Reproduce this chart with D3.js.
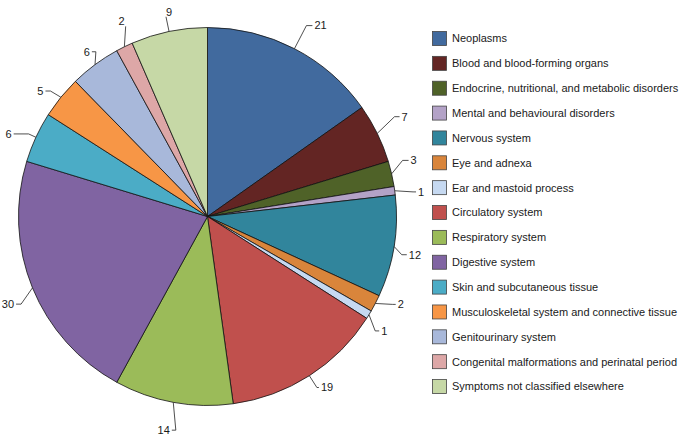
<!DOCTYPE html>
<html><head><meta charset="utf-8">
<script src="https://cdn.jsdelivr.net/npm/d3@7"></script>
<style>body{margin:0;background:#fff}svg{display:block}text{font-family:"Liberation Sans",Arial,sans-serif;font-size:11px;fill:#1a1a1a}</style>
</head><body>
<svg id="chart" width="689" height="438"></svg>
<script>
const categories = ["Neoplasms","Blood and blood-forming organs","Endocrine, nutritional, and metabolic disorders","Mental and behavioural disorders","Nervous system","Eye and adnexa","Ear and mastoid process","Circulatory system","Respiratory system","Digestive system","Skin and subcutaneous tissue","Musculoskeletal system and connective tissue","Genitourinary system","Congenital malformations and perinatal period","Symptoms not classified elsewhere"];
const values = [21,7,3,1,12,2,1,19,14,30,6,5,6,2,9];
const colors = ["#416a9e","#632523","#4f6228","#b3a2c7","#31859c","#d9853b","#c6d9f1","#c0504d","#9bbb59","#8064a2","#4bacc6","#f79646","#a8b8da","#dda7a7","#c6d8a6"];
// leader-line layout: radial extension, angle tweak (deg), horizontal run
const leaderOff = [26,23,14,18,9,16,14,14,27,17,8,12,10,18,15];
const leaderDAng = [0,-2,-3,1,2,-2,3,0,-2,-3,0,-0.5,2.4,2.8,0];
const leaderRun = [6,5,6,3,5,3,4,2,4,5,15,5,4,0,0];

const svg = d3.select("#chart");
const cx = 207.5, cy = 216.5, R = 189;
const g = svg.append("g").attr("transform",`translate(${cx},${cy})`);
const pie = d3.pie().sort(null).value(d=>d)(values);
const arc = d3.arc().innerRadius(0).outerRadius(R);
g.selectAll("path.slice").data(pie).join("path")
  .attr("class","slice").attr("d",arc)
  .attr("fill",(d,i)=>colors[i]).attr("stroke","#111").attr("stroke-width",0.8).attr("stroke-linejoin","round");

const toRad = Math.PI/180;
pie.forEach((d,i)=>{
  const a = (d.startAngle+d.endAngle)/2;
  const p0 = [Math.sin(a)*R, -Math.cos(a)*R];
  const a2 = a + leaderDAng[i]*toRad;
  const r2 = R + leaderOff[i];
  const p1 = [Math.sin(a2)*r2, -Math.cos(a2)*r2];
  const side = Math.sin(a2) >= 0 ? 1 : -1;
  const p2 = [p1[0] + side*leaderRun[i], p1[1]];
  g.append("polyline").attr("points",[p0,p1,p2].map(p=>p.join(",")).join(" "))
    .attr("fill","none").attr("stroke","#222").attr("stroke-width",0.8);
  const t = g.append("text").text(values[i]);
  if (leaderRun[i] === 0) {
    t.attr("x", p1[0] + (i===14 ? 0 : -1)).attr("y", p1[1]-1)
     .attr("text-anchor", i===14 ? "start" : "end");
  } else {
    t.attr("x", p2[0] + side*2).attr("y", p2[1]).attr("dy","0.35em")
     .attr("text-anchor", side>0 ? "start" : "end");
  }
});

const legend = svg.append("g").attr("transform","translate(432,38)");
const ly = d3.scalePoint().domain(categories).range([0, 24.86*(categories.length-1)]);
const items = legend.selectAll("g").data(categories).join("g").attr("transform",d=>`translate(0,${ly(d)})`);
items.append("rect").attr("x",0.5).attr("y",-6.5).attr("width",14).attr("height",14)
  .attr("fill",(d,i)=>colors[i]).attr("stroke","#444").attr("stroke-width",0.8);
items.append("text").attr("x",20).attr("y",0.5).attr("dy","0.35em").text(d=>d);
</script>
</body></html>
